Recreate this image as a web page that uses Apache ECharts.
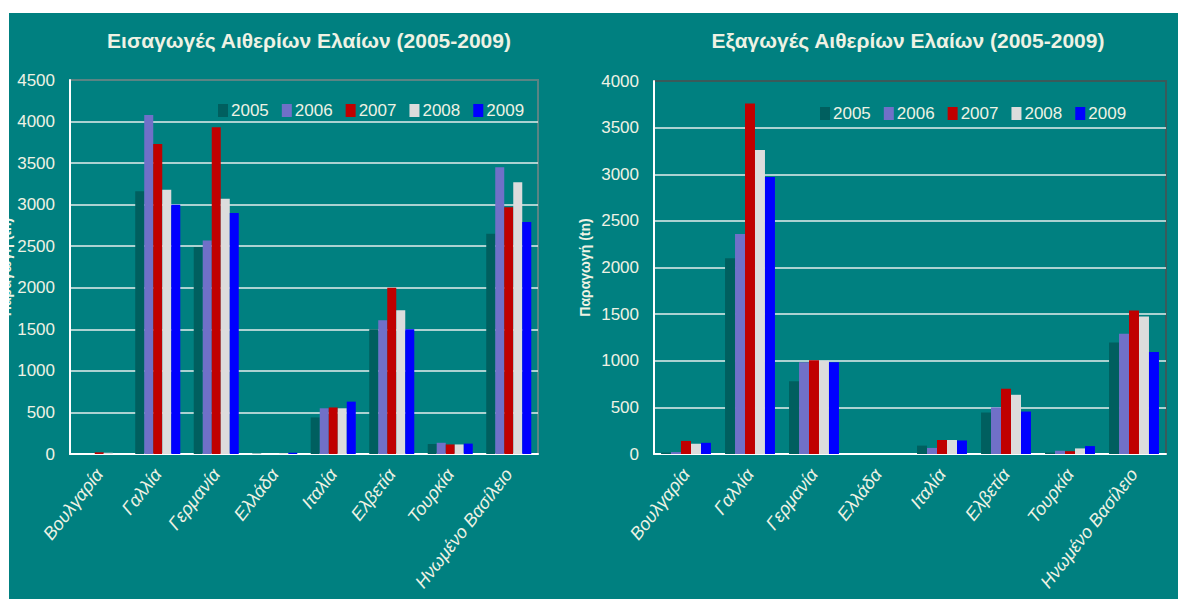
<!DOCTYPE html>
<html>
<head>
<meta charset="utf-8">
<script src="https://cdn.jsdelivr.net/npm/echarts@6/dist/echarts.min.js"></script>
<style>
html,body{margin:0;padding:0;background:#ffffff;width:1178px;height:599px;overflow:hidden;}
#chart{position:absolute;left:9px;top:13px;width:1169px;height:586px;background:#008080;overflow:hidden;}
</style>
</head>
<body>
<div id="chart"></div>
<script>
const categories = ['Βουλγαρία','Γαλλία','Γερμανία','Ελλάδα','Ιταλία','Ελβετία','Τουρκία','Ηνωμένο Βασίλειο'];
const years = ['2005','2006','2007','2008','2009'];
const importsTitle = 'Εισαγωγές Αιθερίων Ελαίων (2005-2009)';
const exportsTitle = 'Εξαγωγές Αιθερίων Ελαίων (2005-2009)';
const yName = 'Παραγωγή (tn)';

const imports2005 = [0, 3160, 2490, 5, 440, 1500, 120, 2650];
const imports2006 = [0, 4080, 2570, 0, 550, 1610, 135, 3450];
const imports2007 = [20, 3730, 3930, 0, 560, 2000, 115, 2970];
const imports2008 = [15, 3180, 3070, 10, 550, 1730, 115, 3270];
const imports2009 = [0, 3000, 2900, 15, 630, 1500, 125, 2790];

const exports2005 = [15, 2100, 780, 0, 90, 445, 15, 1195];
const exports2006 = [20, 2360, 985, 0, 65, 500, 35, 1290];
const exports2007 = [140, 3760, 1005, 0, 150, 700, 30, 1540];
const exports2008 = [110, 3260, 1000, 0, 150, 635, 60, 1475];
const exports2009 = [120, 2970, 985, 0, 145, 455, 85, 1095];

const importsMax = 4500, exportsMax = 4000, tickStep = 500;

const colors = ['#005f5f', '#7070c8', '#c00000', '#dcdcdc', '#0000ff'];
const importsData = [imports2005, imports2006, imports2007, imports2008, imports2009];
const exportsData = [exports2005, exports2006, exports2007, exports2008, exports2009];

const txt = '#eef2e4';
const font = '"Liberation Sans", Arial, sans-serif';

function xAxis(gi){
  return {
    type:'category', gridIndex:gi, data:categories,
    axisLine:{show:true, lineStyle:{color:'#ffffff', width:2}},
    axisTick:{show:false},
    axisLabel:{rotate:52, fontStyle:'italic', fontSize:18, color:txt, fontFamily:font, margin:17, interval:0}
  };
}
function yAxis(gi, max, gap){
  return {
    type:'value', gridIndex:gi, min:0, max:max, interval:tickStep,
    name:yName, nameLocation:'middle', nameGap:gap,
    nameTextStyle:{fontSize:14, fontWeight:'bold', color:txt, fontFamily:font},
    axisLine:{show:true, lineStyle:{color:'#ffffff', width:2}},
    axisTick:{show:false},
    axisLabel:{fontSize:17, color:txt, fontFamily:font, margin:15, formatter:function(v){return String(v);}},
    splitLine:{show:true, showMaxLine:false, lineStyle:{color:'#e4eeec', width:1.6}}
  };
}
const series = [];
years.forEach((y,i)=>{
  series.push({name:y, type:'bar', xAxisIndex:0, yAxisIndex:0, data:importsData[i],
    itemStyle:{color:colors[i]}, barGap:'0%', barCategoryGap:'23%', animation:false});
});
years.forEach((y,i)=>{
  series.push({name:y, type:'bar', xAxisIndex:1, yAxisIndex:1, data:exportsData[i],
    itemStyle:{color:colors[i]}, barGap:'0%', barCategoryGap:'22%', animation:false});
});
const legendBase = {
  data:years, orient:'horizontal', padding:0, itemWidth:10, itemHeight:13, itemGap:13,
  selectedMode:false, icon:'rect',
  textStyle:{fontSize:17, color:txt, fontFamily:font, padding:[0,0,0,-2]}
};
const chart = echarts.init(document.getElementById('chart'), null, {renderer:'svg', width:1169, height:586});
chart.setOption({
  backgroundColor:'#008080',
  animation:false,
  graphic:[
    {type:'text', x:300, y:27, style:{text:importsTitle, fill:txt, font:'bold 21px "Liberation Sans", Arial, sans-serif', textAlign:'center', textVerticalAlign:'middle'}},
    {type:'text', x:899, y:27, style:{text:exportsTitle, fill:txt, font:'bold 21px "Liberation Sans", Arial, sans-serif', textAlign:'center', textVerticalAlign:'middle'}}
  ],
  grid:[
    {left:61, top:67, width:468, height:374, containLabel:false, outerBoundsMode:'none', show:true, borderColor:'#5a8484', borderWidth:2, backgroundColor:'transparent'},
    {left:645, top:68, width:512, height:373, containLabel:false, outerBoundsMode:'none', show:true, borderColor:'#3a5a5a', borderWidth:2, backgroundColor:'transparent'}
  ],
  legend:[
    Object.assign({}, legendBase, {left:209, top:89}),
    Object.assign({}, legendBase, {left:811, top:92})
  ],
  xAxis:[xAxis(0), xAxis(1)],
  yAxis:[yAxis(0, importsMax, 57), yAxis(1, exportsMax, 62)],
  series:series
});
</script>
</body>
</html>
